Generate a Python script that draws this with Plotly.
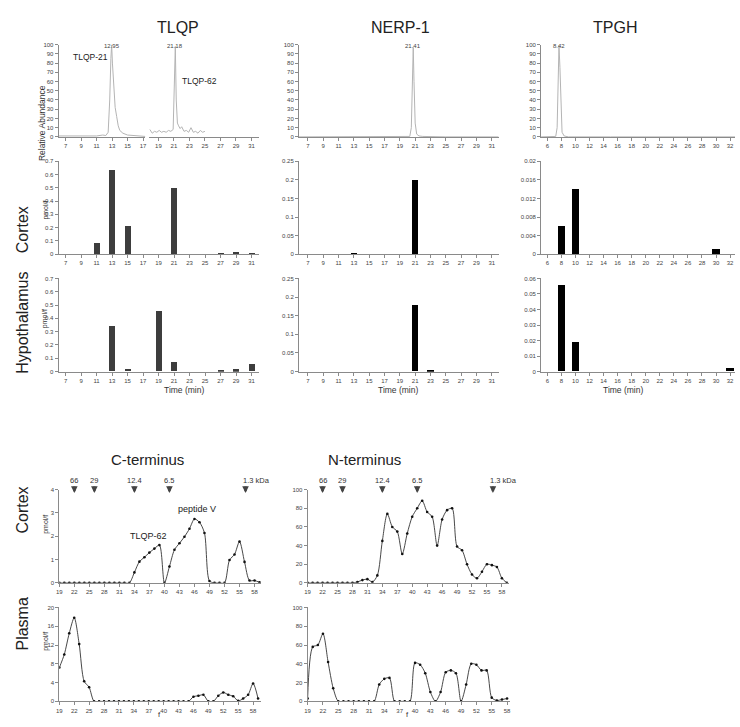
import plotly.graph_objects as go

W, H = 740, 727
FONT = "Liberation Sans, Arial, sans-serif"

# ---------------- data ----------------
# chromatograms (relative abundance)
tlqp_chrom_a_t = [6.1, 7, 8, 9, 10, 11, 11.8, 12.2, 12.5, 12.7, 12.85, 12.95, 13.05, 13.2, 13.4, 13.6, 13.8, 14.0, 14.4, 15, 16, 17.3]
tlqp_chrom_a_y = [1, 1, 0.5, 1, 1, 1, 2, 1.5, 5, 40, 85, 100, 80, 55, 32, 22, 12, 7, 4, 2, 1, 0.5]
tlqp_chrom_b_t = [17.9, 18.2, 18.5, 18.8, 19.1, 19.4, 19.7, 20.0, 20.3, 20.6, 20.9, 21.0, 21.1, 21.18, 21.3, 21.45, 21.6, 21.8, 22.0, 22.3, 22.6, 22.9, 23.2, 23.5, 23.8, 24.1, 24.4, 24.7, 25.0]
tlqp_chrom_b_y = [8, 4, 6, 5, 7, 5, 6, 5, 7, 6, 8, 40, 80, 98, 40, 15, 12, 9, 11, 6, 7, 5, 10, 5, 6, 4, 7, 5, 6]
nerp_chrom_t = [5.83, 10, 15, 19, 19.8, 20.3, 20.5, 20.65, 20.75, 20.85, 21.0, 21.2, 21.5, 22, 25, 31.9]
nerp_chrom_y = [0, 0, 0, 0, 0.8, 0.5, 10, 60, 97, 60, 15, 3, 1, 0.5, 0, 0]
tpgh_chrom_t = [5.11, 6.5, 7.2, 7.4, 7.55, 7.66, 7.8, 7.95, 8.1, 8.4, 9, 15, 32.7]
tpgh_chrom_y = [0, 0, 0.5, 10, 70, 99, 75, 30, 5, 1, 0, 0, 0]

# bar charts (pmol/f)
odd_times = [7, 9, 11, 13, 15, 17, 19, 21, 23, 25, 27, 29, 31]
tlqp_cortex = [0, 0, 0.08, 0.63, 0.21, 0, 0, 0.50, 0, 0, 0.01, 0.015, 0.004]
tlqp_hypo = [0, 0, 0, 0.34, 0.02, 0, 0.45, 0.07, 0, 0, 0.004, 0.015, 0.055]
nerp_cortex = [0, 0, 0, 0.002, 0, 0, 0, 0.20, 0, 0, 0, 0, 0]
nerp_hypo = [0, 0, 0, 0, 0, 0, 0, 0.177, 0.001, 0, 0, 0, 0]
even_times = [6, 8, 10, 12, 14, 16, 18, 20, 22, 24, 26, 28, 30, 32]
tpgh_cortex = [0, 0.006, 0.014, 0, 0, 0, 0, 0, 0, 0, 0, 0, 0.001, 0]
tpgh_hypo = [0, 0.0555, 0.019, 0, 0, 0, 0, 0, 0, 0, 0, 0, 0, 0.002]

# gel filtration fractions
fractions = list(range(19, 60))
c_cortex = [0]*14 + [0, 0.45, 0.91, 1.1, 1.3, 1.47, 1.62, 0, 0.7, 1.42, 1.7, 1.98, 2.32, 2.74, 2.6, 2.14,
                     0.08, 0, 0, 0, 0.98, 1.22, 1.77, 0.9, 0.1, 0.1, 0.02]
n_cortex = [0]*9 + [0, 1, 3, 4, 1, 8, 45, 74, 60, 55, 31, 53, 71, 80, 88, 76, 71, 40, 68, 78, 80,
                    39, 35, 20, 9, 5, 12, 20, 19, 17, 5, 0]
c_plasma = [7.2, 10, 14.5, 17.8, 12.2, 4.3, 3, 0] + [0]*19 + [1, 1.2, 1.4, 0, 0, 1.2, 1.9, 1.4, 1.1, 0.1, 0.6, 1.4, 3.8, 0.6]
fractions_np = list(range(19, 59))
n_plasma = [3, 58, 60, 72, 42, 14, 0] + [0]*7 + [18, 24, 25, 0, 0, 0, 0, 41, 39, 30, 10, 0, 10, 31, 33, 30,
                                             0, 18, 40, 39, 33, 33, 4, 1, 2, 3]
frac_ticks = [19, 22, 25, 28, 31, 34, 37, 40, 43, 46, 49, 52, 55, 58]

mw_labels = ["66", "29", "12.4", "6.5", "1.3 kDa"]
mw_fractions = [22, 26, 34, 41, 56.2]

# ---------------- layout helpers ----------------
fig = go.Figure()
axes = {}
count = [0]
annotations = []

AX = dict(showgrid=False, zeroline=False, showline=True, linecolor="#8a8a8a", linewidth=1,
          ticks="outside", ticklen=3, tickcolor="#8a8a8a", tickwidth=1,
          tickfont=dict(size=6, color="#444", family=FONT), fixedrange=True)


def panel(px0, px1, py0, py1, xr, yr, xt, yt, showy=True):
    count[0] += 1
    n = count[0]
    s = "" if n == 1 else str(n)
    xa = dict(AX, domain=[px0 / W, px1 / W], range=xr, anchor="y" + s, tickvals=xt)
    ya = dict(AX, domain=[1 - py1 / H, 1 - py0 / H], range=yr, anchor="x" + s, tickvals=yt)
    if not showy:
        ya.update(showline=False, ticks="", showticklabels=False)
    axes["xaxis" + s] = xa
    axes["yaxis" + s] = ya
    return "x" + s, "y" + s


def text(x, y, t, size, xref="paper", yref="paper", angle=0, color="#222", **kw):
    annotations.append(dict(x=x if xref != "paper" else x / W, y=y if yref != "paper" else 1 - y / H,
                            xref=xref, yref=yref, text=t, showarrow=False, textangle=angle,
                            font=dict(size=size, color=color, family=FONT), **kw))


ab_ticks = [0, 10, 20, 30, 40, 50, 60, 70, 80, 90, 100]
R1, R2, R3 = (42, 135), (159.5, 253.3), (277.7, 371.7)
chrom_line = dict(color="#b4b4b4", width=1)

# ---- row 1: chromatograms ----
xa, ya = panel(56, 143.3, *R1, [6.1, 17.3], [0, 100], [7, 9, 11, 13, 15, 17], ab_ticks)
fig.add_trace(go.Scatter(x=tlqp_chrom_a_t, y=tlqp_chrom_a_y, mode="lines", line=chrom_line, xaxis=xa, yaxis=ya))
text(12.95, 38, "12.95", 6, xref=xa, color="#444")
text(10.2, 87, "TLQP-21", 8.5, xref=xa, yref=ya)
xb, yb = panel(146.7, 258, *R1, [17.75, 32], [0, 100], [19, 21, 23, 25, 27, 29, 31], ab_ticks, showy=False)
fig.add_trace(go.Scatter(x=tlqp_chrom_b_t, y=tlqp_chrom_b_y, mode="lines", line=chrom_line, xaxis=xb, yaxis=yb))
text(21.18, 38, "21.18", 6, xref=xb, color="#444")
text(24.3, 61, "TLQP-62", 8.5, xref=xb, yref=yb)

xa, ya = panel(298, 499, *R1, [5.83, 31.9], [0, 100], odd_times, ab_ticks)
fig.add_trace(go.Scatter(x=nerp_chrom_t, y=nerp_chrom_y, mode="lines", line=chrom_line, xaxis=xa, yaxis=ya))
text(20.75, 38, "21.41", 6, xref=xa, color="#444")

xa, ya = panel(541.7, 737, *R1, [5.11, 32.7], [0, 100], even_times, ab_ticks)
fig.add_trace(go.Scatter(x=tpgh_chrom_t, y=tpgh_chrom_y, mode="lines", line=chrom_line, xaxis=xa, yaxis=ya))
text(7.66, 38, "8.42", 6, xref=xa, color="#444")

# ---- rows 2/3: bars ----
t_ticks = [0, 0.1, 0.2, 0.3, 0.4, 0.5, 0.6, 0.7]
n_ticks = [0, 0.05, 0.1, 0.15, 0.2, 0.25]
for row, tl, nr, tp, tpr, tpt in [
        (R2, tlqp_cortex, nerp_cortex, tpgh_cortex, 0.02, [0, 0.004, 0.008, 0.012, 0.016, 0.02]),
        (R3, tlqp_hypo, nerp_hypo, tpgh_hypo, 0.06, [0, 0.01, 0.02, 0.03, 0.04, 0.05, 0.06])]:
    xa, ya = panel(56, 258, *row, [6.1, 32], [0, 0.7], odd_times, t_ticks)
    fig.add_trace(go.Bar(x=odd_times, y=tl, width=0.78, marker=dict(color="#3d3d3d", line=dict(width=0)), xaxis=xa, yaxis=ya))
    xa, ya = panel(298, 499, *row, [5.83, 31.9], [0, 0.25], odd_times, n_ticks)
    fig.add_trace(go.Bar(x=odd_times, y=nr, width=0.82, marker=dict(color="#000", line=dict(width=0)), xaxis=xa, yaxis=ya))
    xa, ya = panel(541.7, 737, *row, [5.11, 32.7], [0, tpr], even_times, tpt)
    fig.add_trace(go.Bar(x=even_times, y=tp, width=1.02, marker=dict(color="#000", line=dict(width=0)), xaxis=xa, yaxis=ya))

# ---- bottom: gel filtration ----
line_style = dict(shape="spline", smoothing=0.8, color="#333", width=0.9)
mk = dict(size=2.6, color="#111")
BC, BP = (490.7, 584.7), (609.5, 704.2)
xc, yc = panel(56.7, 259.8, *BC, [19, 59.3], [0, 4], frac_ticks, [0, 1, 2, 3, 4])
fig.add_trace(go.Scatter(x=fractions, y=c_cortex, mode="lines+markers", line=line_style, marker=mk, xaxis=xc, yaxis=yc))
text(36.9, 2.03, "TLQP-62", 9, xref=xc, yref=yc)
text(46.6, 3.15, "peptide V", 9, xref=xc, yref=yc)
xn, yn = panel(306.7, 509.3, *BC, [19, 59.4], [0, 100], frac_ticks, [0, 20, 40, 60, 80, 100])
fig.add_trace(go.Scatter(x=fractions, y=n_cortex, mode="lines+markers", line=line_style, marker=mk, xaxis=xn, yaxis=yn))
xa, ya = panel(56.7, 259.8, *BP, [19, 59.6], [0, 20], frac_ticks, [0, 4, 8, 12, 16, 20])
fig.add_trace(go.Scatter(x=fractions, y=c_plasma, mode="lines+markers", line=line_style, marker=mk, xaxis=xa, yaxis=ya))
xa, ya = panel(306.7, 510.6, *BP, [19, 58.6], [0, 100], frac_ticks, [0, 20, 40, 60, 80, 100])
fig.add_trace(go.Scatter(x=fractions_np, y=n_plasma, mode="lines+markers", line=line_style, marker=mk, xaxis=xa, yaxis=ya))

for xr in (xc, xn):
    for lab, fr in zip(mw_labels, mw_fractions):
        annotations.append(dict(x=fr, y=1 - 494 / H, xref=xr, yref="paper", text="", showarrow=True,
                                ax=0, ay=-8, arrowhead=2, arrowsize=0.55, arrowwidth=2.4, arrowcolor="#444"))
        if "kDa" in lab:
            text(fr, 481, lab, 7.5, xref=xr, xanchor="left", xshift=-5, color="#333")
        else:
            text(fr, 481, lab, 7.5, xref=xr, color="#333")

# ---- titles and labels ----
text(153, 14, "TLQP", 16)
text(400, 14, "NERP-1", 16)
text(640, 14, "TPGH", 16)
text(33, 81, "Relative Abundance", 8.5, angle=-90, color="#333")
text(9, 203, "Cortex", 16, angle=-90)
text(9, 322, "Hypothalamus", 16, angle=-90)
text(37, 197, "pmol/f", 7, angle=-90, color="#333")
text(37, 318, "pmol/f", 7, angle=-90, color="#333")
for xc_px in (160, 398, 646):
    text(xc_px, 390.5, "Time (min)", 8.5, color="#333")
text(107, 460, "C-terminus", 15)
text(364, 460, "N-terminus", 15)
text(9, 537, "Cortex", 16, angle=-90)
text(9, 655, "Plasma", 16, angle=-90)
text(37, 537, "pmol/f", 7, angle=-90, color="#333")
text(37, 655, "pmol/f", 7, angle=-90, color="#333")
text(155, 722.5, "f", 7.5, color="#333", borderpad=0)
text(407, 722.5, "f", 7.5, color="#333", borderpad=0)

fig.update_layout(width=W, height=H, margin=dict(l=0, r=0, t=0, b=0), showlegend=False,
                  paper_bgcolor="white", plot_bgcolor="white", bargap=0,
                  annotations=annotations, **axes)
fig.write_html("out.html", config={"displayModeBar": False})

# remove default page margin so the figure fills the 740x727 window exactly
with open("out.html", encoding="utf-8") as fh:
    html = fh.read()
html = html.replace("<head>", "<head><style>html,body{margin:0;padding:0;overflow:hidden;}</style>", 1)
with open("out.html", "w", encoding="utf-8") as fh:
    fh.write(html)
